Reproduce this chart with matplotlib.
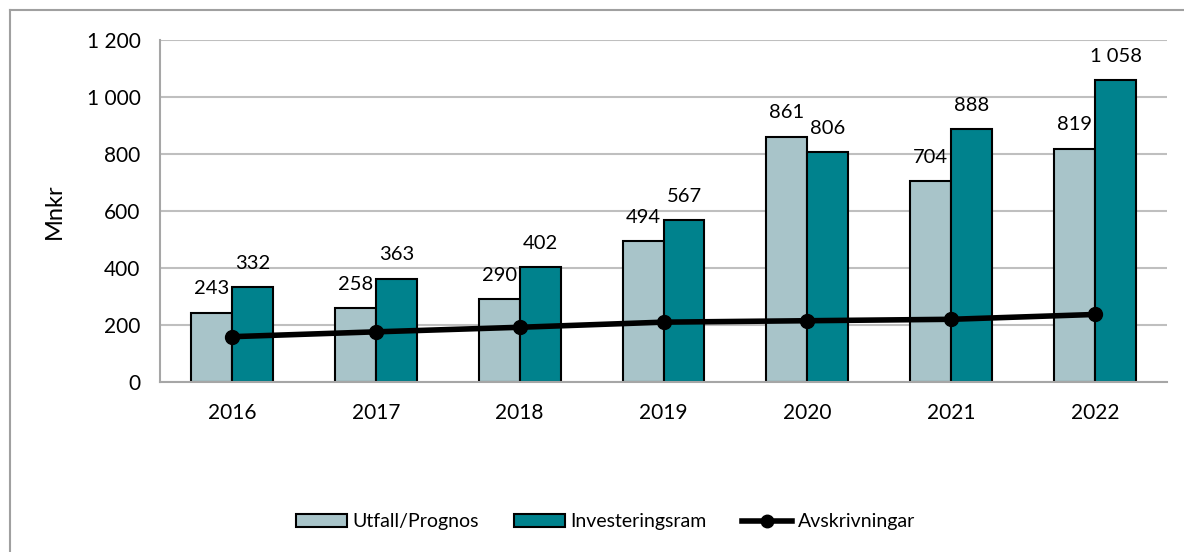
import matplotlib.pyplot as plt
from matplotlib.lines import Line2D
import numpy as np

plt.rcParams['font.family'] = ['Lato', 'DejaVu Sans']

years = ['2016', '2017', '2018', '2019', '2020', '2021', '2022']
utfall = [243, 258, 290, 494, 861, 704, 819]
ram = [332, 363, 402, 567, 806, 888, 1058]
avskr = [159, 176, 192, 210, 215, 220, 237]
yticks = [0, 200, 400, 600, 800, 1000, 1200]


def fmt(v):
    # mellanslag som tusentalsavgränsare
    return f'{v:,}'.replace(',', ' ')


fig = plt.figure(figsize=(11.84, 5.52), dpi=100)
ax = fig.add_axes([160 / 1184, 1 - 382 / 552, 1007 / 1184, 342 / 552])

x = np.arange(len(years))
w = 0.285
c_light = '#A8C4C9'
c_teal = '#00828D'

b1 = ax.bar(x - w / 2, utfall, w, color=c_light, edgecolor='black', linewidth=1.5,
            label='Utfall/Prognos', zorder=2)
b2 = ax.bar(x + w / 2, ram, w, color=c_teal, edgecolor='black', linewidth=1.5,
            label='Investeringsram', zorder=2)
ax.plot(x, avskr, color='black', linewidth=4, marker='o', markersize=10,
        label='Avskrivningar', zorder=3)

for xi, v in zip(x, utfall):
    ax.annotate(fmt(v), (xi - w / 2, v), xytext=(0, 11), textcoords='offset points',
                ha='center', va='bottom', fontsize=14.5)
for xi, v in zip(x, ram):
    ax.annotate(fmt(v), (xi + w / 2, v), xytext=(0, 11), textcoords='offset points',
                ha='center', va='bottom', fontsize=14.5)

ax.set_xlim(-0.5, len(years) - 0.5)
ax.set_ylim(0, 1200)
ax.set_yticks(yticks)
ax.set_yticklabels([fmt(t) for t in yticks], fontsize=15)
ax.set_xticks(x)
ax.set_xticklabels(years, fontsize=15)
ax.tick_params(length=0, pad=14)
ax.tick_params(axis='x', pad=15)
ax.set_ylabel('Mnkr', fontsize=17, labelpad=16)

ax.grid(axis='y', color='#BFBFBF', linewidth=1.5, zorder=0)
ax.set_axisbelow(True)
for s in ['top', 'right']:
    ax.spines[s].set_visible(False)
for s in ['left', 'bottom']:
    ax.spines[s].set_color('#A6A6A6')
    ax.spines[s].set_linewidth(1.5)

handles = [b1, b2, Line2D([], [], color='black', linewidth=4, marker='o', markersize=9)]
fig.legend(handles, ['Utfall/Prognos', 'Investeringsram', 'Avskrivningar'],
           loc='center', bbox_to_anchor=(606 / 1184, 1 - 522 / 552), ncol=3,
           frameon=False, fontsize=14, handlelength=2.6, handleheight=0.6,
           handletextpad=0.3, columnspacing=1.8)

# ram runt diagrammet (bara vänster och övre kant syns)
fig.add_artist(Line2D([10 / 1184, 10 / 1184], [0, 1 - 10 / 552], color='#A0A0A0', linewidth=1.5))
fig.add_artist(Line2D([10 / 1184, 1], [1 - 10 / 552, 1 - 10 / 552], color='#A0A0A0', linewidth=1.5))

fig.savefig('out.png', dpi=100)
